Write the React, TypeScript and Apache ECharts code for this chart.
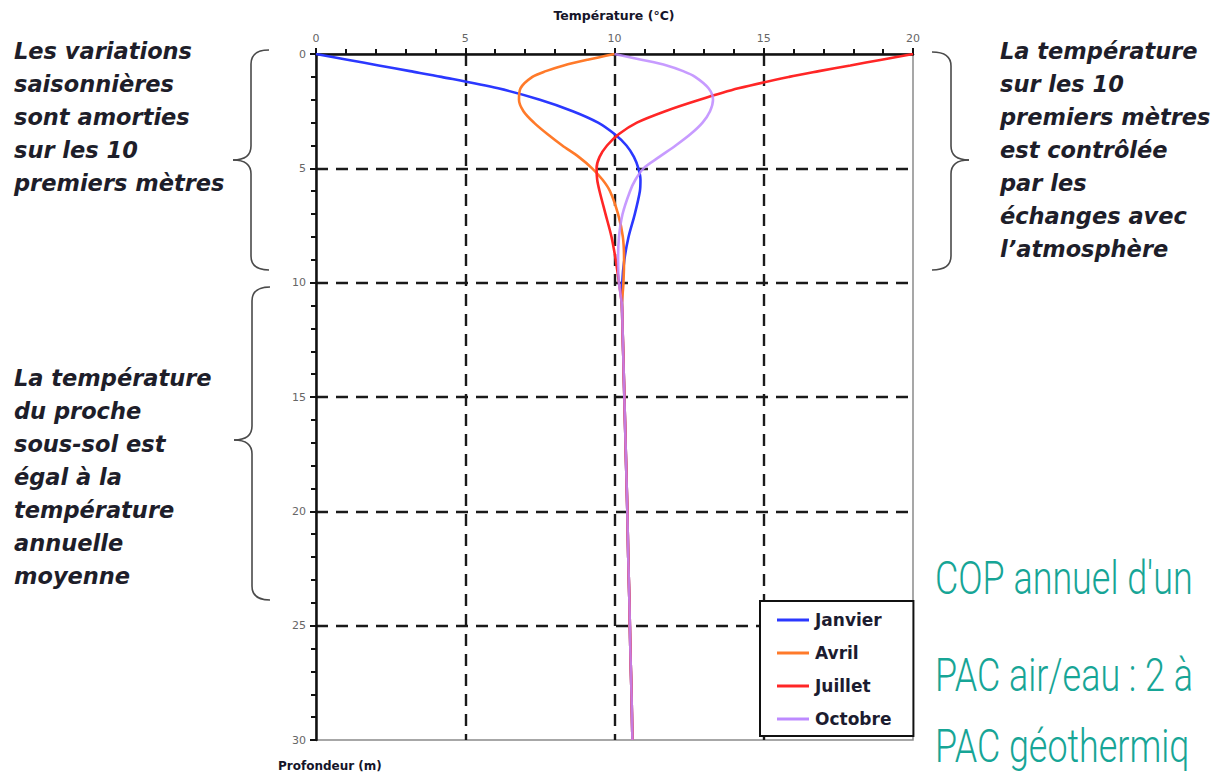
import React, { useEffect, useRef } from "react";
import * as echarts from "echarts";

// Depth (m) readings of the shallow part of each profile
const depths = [0, 0.25, 0.5, 0.75, 1, 1.5, 2, 2.5, 3, 3.5, 4, 4.5, 5, 5.5, 6, 7, 8, 9, 10];
// Temperatures (°C) at those depths
const janvier = [0, 1.05, 2.1, 3.15, 4.2, 6.1, 7.5, 8.6, 9.45, 10.0, 10.4, 10.65, 10.8, 10.87, 10.85, 10.68, 10.47, 10.33, 10.26];
const avril = [10, 9.1, 8.3, 7.7, 7.25, 6.85, 6.8, 6.95, 7.3, 7.75, 8.25, 8.8, 9.25, 9.6, 9.85, 10.12, 10.28, 10.32, 10.3];
const juillet = [20, 18.95, 17.9, 16.85, 15.85, 14.15, 12.85, 11.7, 10.75, 10.15, 9.75, 9.5, 9.4, 9.42, 9.5, 9.7, 9.9, 10.04, 10.15];
const octobre = [10, 10.9, 11.75, 12.3, 12.7, 13.15, 13.3, 13.2, 12.95, 12.55, 12.05, 11.5, 10.97, 10.7, 10.52, 10.27, 10.15, 10.12, 10.15];
// Deep part, common to all months
const deepDepths = [11, 12, 14, 16, 18, 20, 22, 24, 26, 28, 30];
const deepTemps = [10.25, 10.27, 10.31, 10.35, 10.39, 10.43, 10.46, 10.5, 10.53, 10.57, 10.6];

const months = ["Janvier", "Avril", "Juillet", "Octobre"];
const monthValues = [janvier, avril, juillet, octobre];
const monthColors = ["#2b38ff", "#ff7a2a", "#ff2626", "#bd8aff"];

const tempMin = 0;
const tempMax = 20;
const tempStep = 5;
const depthMin = 0;
const depthMax = 30;
const depthStep = 5;

const xTitle = "Température (°C)";
const yTitle = "Profondeur (m)";

const noteLeftTop = ["Les variations", "saisonnières", "sont amorties", "sur les 10", "premiers mètres"];
const noteLeftBottom = ["La température", "du proche", "sous-sol est", "égal à la", "température", "annuelle", "moyenne"];
const noteRight = ["La température", "sur les 10", "premiers mètres", "est contrôlée", "par les", "échanges avec", "l’atmosphère"];
const copLines = ["COP annuel d'un", "PAC air/eau : 2 à", "PAC géothermiq"];

function brace(xTip: number, xSpine: number, xPoint: number, y0: number, ym: number, y1: number, r: number) {
  const style = { stroke: "#4a4a4a", lineWidth: 1.6, fill: "none" };
  return [
    { type: "bezierCurve", shape: { x1: xTip, y1: y0, x2: xSpine, y2: y0 + r, cpx1: xSpine, cpy1: y0 }, style },
    { type: "line", shape: { x1: xSpine, y1: y0 + r, x2: xSpine, y2: ym - r }, style },
    { type: "bezierCurve", shape: { x1: xSpine, y1: ym - r, x2: xPoint, y2: ym, cpx1: xSpine, cpy1: ym }, style },
    { type: "bezierCurve", shape: { x1: xPoint, y1: ym, x2: xSpine, y2: ym + r, cpx1: xSpine, cpy1: ym }, style },
    { type: "line", shape: { x1: xSpine, y1: ym + r, x2: xSpine, y2: y1 - r }, style },
    { type: "bezierCurve", shape: { x1: xSpine, y1: y1 - r, x2: xTip, y2: y1, cpx1: xSpine, cpy1: y1 }, style },
  ];
}

function noteText(lines: string[], x: number, yFirstCenter: number) {
  return {
    type: "text",
    x,
    y: yFirstCenter - 16.5,
    style: {
      text: lines.join("\n"),
      fontFamily: "DejaVu Sans",
      fontWeight: "bold",
      fontStyle: "italic",
      fontSize: 22.5,
      lineHeight: 33,
      fill: "#1e1e2a",
      verticalAlign: "top",
      align: "left",
    },
  };
}

export default function App() {
  const ref = useRef<HTMLDivElement>(null);

  useEffect(() => {
    if (!ref.current) return;
    const chart = echarts.init(ref.current, undefined, { renderer: "svg" });

    const series = months.map((name, k) => ({
      name,
      type: "line",
      smooth: 0.3,
      symbol: "none",
      z: 3 + k,
      lineStyle: { color: monthColors[k], width: 2.6, opacity: k === 3 ? 0.85 : 1 },
      itemStyle: { color: monthColors[k] },
      data: depths
        .map((d, i) => [monthValues[k][i], d])
        .concat(deepDepths.map((d, i) => [deepTemps[i], d])),
    }));

    const axisLineStyle = { color: "#111", width: 2.5 };
    const tickStyle = { color: "#111", width: 2 };
    const splitStyle = { color: "#1a1a1a", width: 2.4, type: [12, 8] };
    const labelStyle = { fontFamily: "DejaVu Sans", fontSize: 11, color: "#666", margin: 10 };

    const graphics: any[] = [
      {
        type: "text",
        x: 614,
        y: 15,
        style: {
          text: xTitle,
          fontFamily: "DejaVu Sans",
          fontWeight: "bold",
          fontSize: 12.5,
          fill: "#15152a",
          align: "center",
          verticalAlign: "middle",
        },
      },
      {
        type: "text",
        x: 278,
        y: 766,
        style: {
          text: yTitle,
          fontFamily: "DejaVu Sans",
          fontWeight: "bold",
          fontSize: 12,
          fill: "#15152a",
          align: "left",
          verticalAlign: "middle",
        },
      },
      noteText(noteLeftTop, 14, 51),
      noteText(noteLeftBottom, 14, 378),
      noteText(noteRight, 1000, 51),
      ...brace(269, 251, 233, 50, 160, 270, 14),
      ...brace(270, 252, 234, 287, 440, 600, 14),
      ...brace(932, 951, 969, 52, 160, 270, 14),
      ...copLines.map((t, i) => ({
        type: "text",
        x: 935,
        y: [578, 675, 746][i],
        scaleX: 0.78,
        style: {
          text: t,
          fontFamily: "Roboto",
          fontWeight: 300,
          fontSize: 46,
          fill: "#17a596",
          align: "left",
          verticalAlign: "middle",
        },
      })),
    ];

    chart.setOption({
      animation: false,
      backgroundColor: "#ffffff",
      grid: {
        left: 316,
        top: 54,
        width: 597,
        height: 686,
        show: true,
        borderColor: "#8a8a8a",
        borderWidth: 1.5,
        backgroundColor: "transparent",
      },
      legend: {
        data: months,
        orient: "vertical",
        left: 760,
        top: 601,
        icon: "rect",
        itemWidth: 32,
        itemHeight: 3,
        itemGap: 13,
        padding: [9, 22, 7, 17],
        backgroundColor: "#ffffff",
        borderColor: "#111",
        borderWidth: 2,
        borderRadius: 0,
        textStyle: {
          fontFamily: "DejaVu Sans",
          fontWeight: "bold",
          fontSize: 17,
          lineHeight: 20,
          color: "#1c1c30",
          padding: [0, 0, 0, 1],
        },
      },
      xAxis: {
        type: "value",
        position: "top",
        min: tempMin,
        max: tempMax,
        interval: tempStep,
        axisLine: { show: true, onZero: false, lineStyle: axisLineStyle },
        axisTick: { show: true, inside: false, length: 6, lineStyle: tickStyle },
        minorTick: { show: true, splitNumber: 5, length: 5, lineStyle: tickStyle },
        axisLabel: labelStyle,
        splitLine: { show: true, showMinLine: false, showMaxLine: false, lineStyle: splitStyle },
      },
      yAxis: {
        type: "value",
        inverse: true,
        min: depthMin,
        max: depthMax,
        interval: depthStep,
        axisLine: { show: true, onZero: false, lineStyle: axisLineStyle },
        axisTick: { show: true, inside: false, length: 6, lineStyle: tickStyle },
        minorTick: { show: true, splitNumber: 5, length: 5, lineStyle: tickStyle },
        axisLabel: labelStyle,
        splitLine: { show: true, showMinLine: false, showMaxLine: false, lineStyle: splitStyle },
      },
      series,
      graphic: graphics,
    });

    return () => chart.dispose();
  }, []);

  return (
    <div
      ref={ref}
      style={{ position: "fixed", left: 0, top: 0, width: 1216, height: 773, background: "#fff" }}
    />
  );
}
